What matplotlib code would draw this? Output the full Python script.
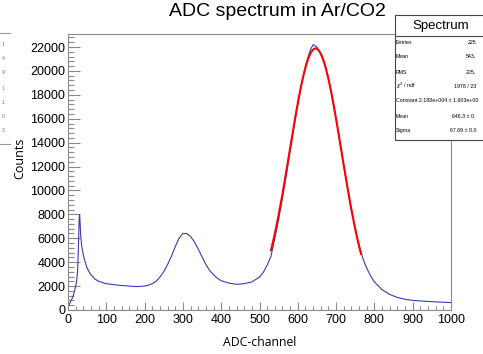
import numpy as np
import matplotlib
matplotlib.use("Agg")
import matplotlib.pyplot as plt
from matplotlib.patches import Rectangle
from matplotlib.lines import Line2D
from matplotlib.ticker import MultipleLocator

# ---------------- data ----------------
channels = [0, 3, 6, 10, 14, 18, 22, 25, 27, 29, 30, 31, 33, 36, 40, 45, 50, 55, 60,
            70, 80, 90, 100, 120, 140, 160, 180, 200, 210, 220, 230, 240, 250, 260,
            270, 280, 290, 300, 310, 320, 330, 340, 350, 360, 370, 380, 390, 400,
            420, 440, 460, 480, 500, 510, 520, 530, 540, 550, 560, 570, 580, 590,
            600, 610, 620, 630, 635, 640, 645, 650, 655, 660, 670, 680, 690, 700,
            710, 720, 730, 740, 750, 760, 770, 780, 790, 800, 820, 840, 860, 880,
            900, 920, 940, 960, 980, 1000]
counts = [200, 450, 650, 900, 1250, 1700, 2300, 3200, 5000, 7500, 8000, 7700, 6300,
          5300, 4600, 4000, 3500, 3200, 2950, 2600, 2400, 2300, 2200, 2120, 2050,
          2000, 1960, 2000, 2080, 2200, 2400, 2750, 3200, 3800, 4500, 5300, 6000,
          6400, 6400, 6150, 5700, 5100, 4450, 3800, 3300, 2950, 2650, 2450, 2250,
          2150, 2200, 2350, 2750, 3150, 3750, 4500, 6000, 7600, 9400, 11300, 13300,
          15300, 17200, 18900, 20400, 21500, 21900, 22200, 22100, 22000, 21700,
          21400, 20600, 19400, 17800, 16000, 14100, 12100, 10200, 8400, 6800, 5400,
          4300, 3500, 2850, 2350, 1700, 1300, 1050, 900, 800, 760, 720, 680, 650, 620]

# Gaussian fit parameters (from the stats box)
fit_constant = 21880.0
fit_mean = 646.3
fit_sigma = 67.69
fit_range = (530, 765)

x_ticks = [0, 100, 200, 300, 400, 500, 600, 700, 800, 900, 1000]
y_ticks = [0, 2000, 4000, 6000, 8000, 10000, 12000, 14000, 16000, 18000, 20000, 22000]

stat_labels = ["Entries", "Mean", "RMS", "$\\chi^2$ / ndf", "Constant 2.188e+004 \u00b1 1.603e+00",
               "Mean", "Sigma"]
stat_values = ["225", "543.", "205.", "1978 / 23", "", "646.3 \u00b1 0.", "67.69 \u00b1 0.0"]
remnant_digits = ["1", "4", "9", "1", "1", "0", "2"]

# ---------------- figure ----------------
W, H = 483, 354
fig = plt.figure(figsize=(W / 100, H / 100), dpi=100)
fig.patch.set_facecolor("white")

def fx(px):
    return px / W

def fy(py):
    return 1 - py / H

ax_l, ax_r, ax_t, ax_b = 68, 451, 34, 310
ax = fig.add_axes([fx(ax_l), fy(ax_b), fx(ax_r) - fx(ax_l), fy(ax_t) - fy(ax_b)])

ax.plot(channels, counts, color="#3a3ab4", lw=0.8, zorder=2)

xf = np.linspace(fit_range[0], fit_range[1], 300)
yf = fit_constant * np.exp(-0.5 * ((xf - fit_mean) / fit_sigma) ** 2)
ax.plot(xf, yf, color="#ff0000", lw=1.5, zorder=3)

ax.set_xlim(0, 1000)
ax.set_ylim(0, 23090)
ax.set_xticks(x_ticks)
ax.set_yticks(y_ticks)
ax.xaxis.set_minor_locator(MultipleLocator(20))
ax.yaxis.set_minor_locator(MultipleLocator(400))

frame_col = "#8a8a8a"
for s in ax.spines.values():
    s.set_color(frame_col)
    s.set_linewidth(0.8)
ax.tick_params(axis="both", which="both", direction="in", color=frame_col,
               labelsize=9, width=0.8)
ax.tick_params(axis="x", which="major", length=6, pad=3)
ax.tick_params(axis="x", which="minor", length=3)
ax.tick_params(axis="y", which="major", length=8.3, pad=2)
ax.tick_params(axis="y", which="minor", length=4.1)
for lab in ax.get_xticklabels() + ax.get_yticklabels():
    lab.set_fontfamily("Liberation Sans")
ax.set_xticklabels([str(v) for v in x_ticks], fontfamily="Liberation Sans", fontsize=9)
ax.set_yticklabels([str(v) for v in y_ticks], fontfamily="Liberation Sans", fontsize=9)

# titles / labels
fig.text(fx(277), fy(12), "ADC spectrum in Ar/CO2", ha="center", va="center",
         fontsize=14, fontfamily="Liberation Sans")
fig.text(fx(260), fy(342), "ADC-channel", ha="center", va="center",
         fontsize=8.8, fontfamily="Open Sans")
fig.text(fx(20), fy(158), "Counts", ha="center", va="center", rotation=90,
         fontsize=9, fontfamily="Open Sans")

# stats box
box_l, box_t, box_b, box_r = 395, 15, 140, 500
fig.patches.append(Rectangle((fx(box_l), fy(box_b)), fx(box_r) - fx(box_l),
                             fy(box_t) - fy(box_b), transform=fig.transFigure,
                             facecolor="white", edgecolor="#444444", lw=0.8, zorder=5))
fig.lines.append(Line2D([fx(box_l), fx(box_r)], [fy(36), fy(36)],
                        transform=fig.transFigure, color="#444444", lw=0.8, zorder=6))
fig.text(fx(441), fy(25.5), "Spectrum", ha="center", va="center", fontsize=9.5,
         fontfamily="Liberation Sans", zorder=7)
row_y = [42, 57, 72, 86, 101, 116, 130]
for lab, val, yy in zip(stat_labels, stat_values, row_y):
    fig.text(fx(396), fy(yy), lab, ha="left", va="center", fontsize=3.8,
             fontfamily="Liberation Sans", zorder=7)
    if val:
        fig.text(fx(476), fy(yy), val, ha="right", va="center", fontsize=3.8,
                 fontfamily="Liberation Sans", zorder=7)

# remnant of a neighbouring stats box at the left edge
fig.lines.append(Line2D([0, fx(10)], [fy(33), fy(33)], transform=fig.transFigure,
                        color="#999999", lw=0.8))
fig.lines.append(Line2D([0, fx(10)], [fy(144), fy(144)], transform=fig.transFigure,
                        color="#999999", lw=0.8))
for d, yy in zip(remnant_digits, [45, 59, 73, 88, 102, 116, 130]):
    fig.text(fx(5), fy(yy), d, ha="right", va="center", fontsize=3.8,
             color="#777777", fontfamily="Liberation Sans")

fig.savefig("out.png", dpi=100)
